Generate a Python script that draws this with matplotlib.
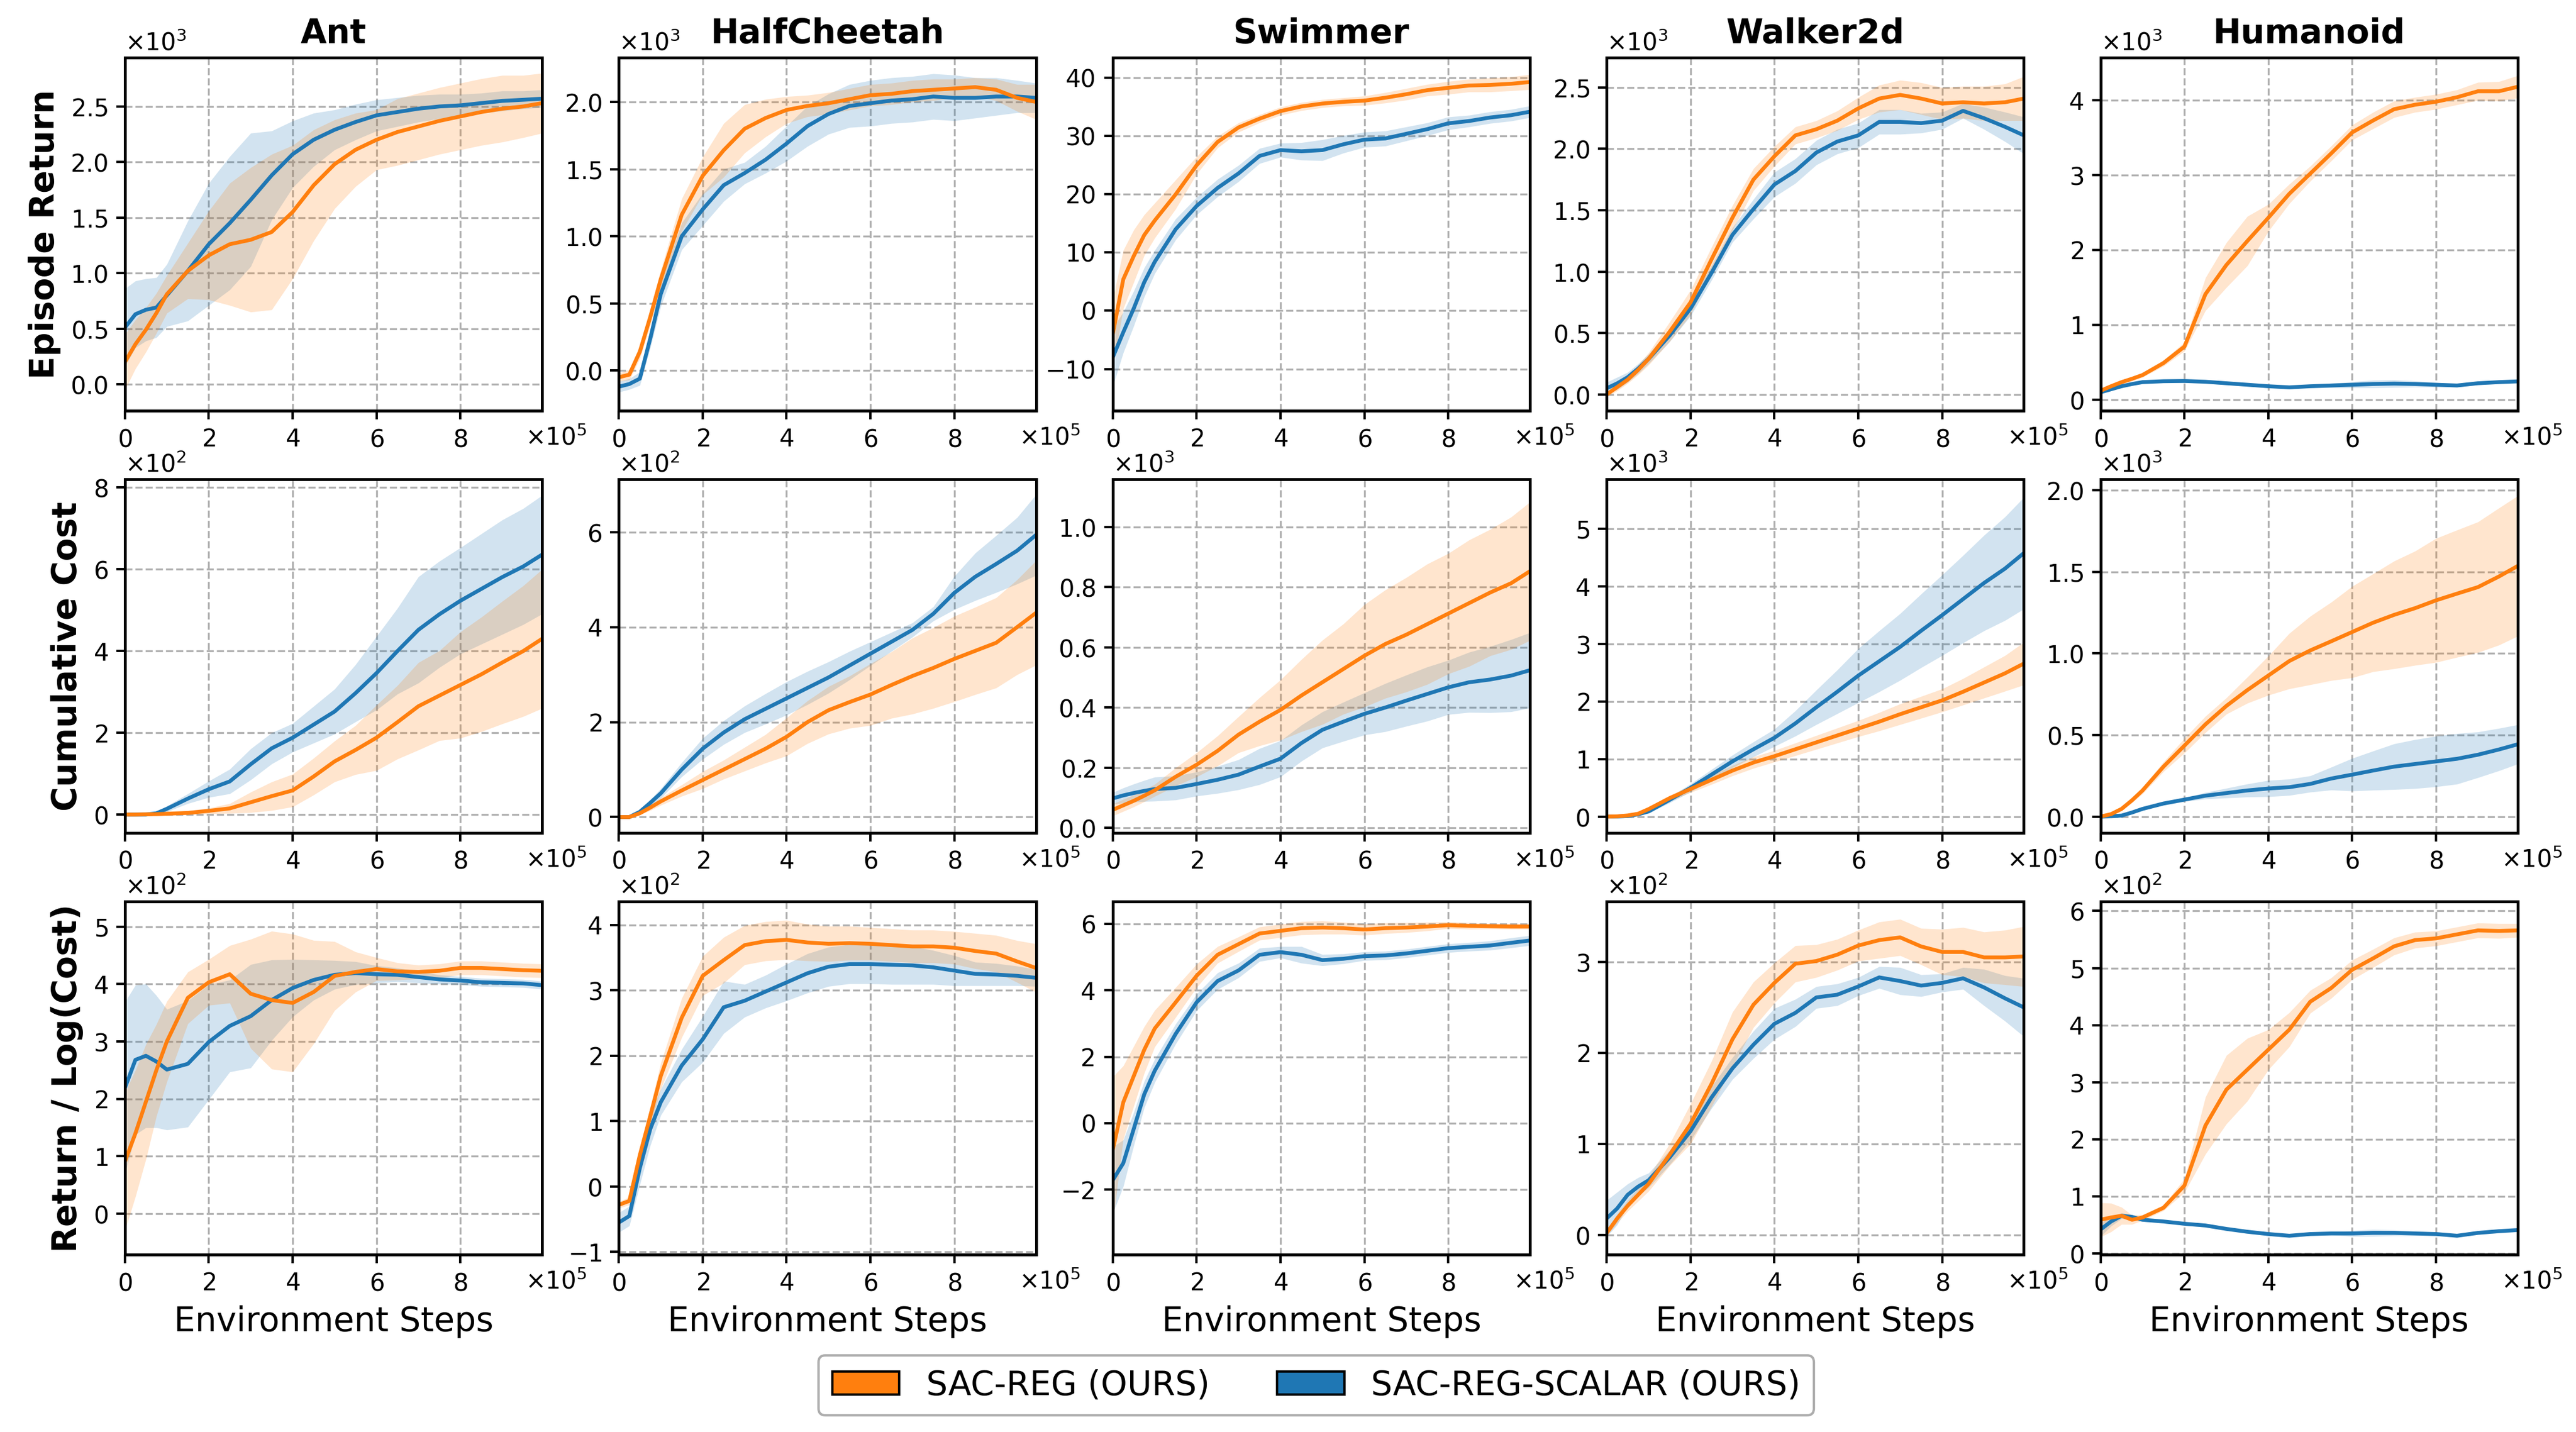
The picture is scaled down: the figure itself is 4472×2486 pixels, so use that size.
import numpy as np
import matplotlib
matplotlib.use("Agg")
import matplotlib.pyplot as plt
from matplotlib.patches import Patch

ORANGE = "#ff7f0e"
BLUE = "#1f77b4"

envs = ["Ant", "HalfCheetah", "Swimmer", "Walker2d", "Humanoid"]
metrics = ["Episode Return", "Cumulative Cost", "Return / Log(Cost)"]
methods = ["SAC-REG (OURS)", "SAC-REG-SCALAR (OURS)"]

# environment steps in units of 1e5
steps = [0, 0.25, 0.5, 0.75, 1, 1.5, 2, 2.5, 3, 3.5, 4, 4.5, 5, 5.5, 6, 6.5, 7, 7.5, 8, 8.5, 9, 9.5, 9.95]

# ---- Episode Return ----
ant_ret_reg = [0.20, 0.36, 0.49, 0.64, 0.81, 1.02, 1.16, 1.26, 1.30, 1.37, 1.55, 1.79, 1.98, 2.11, 2.20, 2.27, 2.32, 2.37, 2.41, 2.45, 2.48, 2.50, 2.53]
ant_ret_reg_sd = [0.25, 0.22, 0.20, 0.18, 0.17, 0.25, 0.40, 0.55, 0.65, 0.70, 0.60, 0.50, 0.40, 0.33, 0.27, 0.30, 0.30, 0.30, 0.30, 0.30, 0.30, 0.28, 0.27]
ant_ret_scl = [0.51, 0.63, 0.67, 0.69, 0.80, 1.02, 1.26, 1.45, 1.66, 1.88, 2.07, 2.20, 2.29, 2.36, 2.42, 2.45, 2.48, 2.50, 2.51, 2.53, 2.55, 2.56, 2.57]
ant_ret_scl_sd = [0.35, 0.30, 0.28, 0.27, 0.28, 0.45, 0.55, 0.60, 0.60, 0.40, 0.30, 0.24, 0.18, 0.16, 0.14, 0.13, 0.12, 0.11, 0.10, 0.09, 0.09, 0.08, 0.08]

hc_ret_reg = [-0.05, -0.03, 0.14, 0.40, 0.68, 1.16, 1.45, 1.64, 1.80, 1.88, 1.94, 1.97, 1.99, 2.02, 2.05, 2.06, 2.08, 2.09, 2.10, 2.11, 2.09, 2.03, 2.00]
hc_ret_reg_sd = [0.03, 0.04, 0.05, 0.06, 0.07, 0.12, 0.14, 0.20, 0.18, 0.14, 0.10, 0.08, 0.08, 0.08, 0.08, 0.08, 0.08, 0.08, 0.07, 0.07, 0.08, 0.10, 0.13]
hc_ret_scl = [-0.12, -0.10, -0.06, 0.24, 0.57, 1.00, 1.20, 1.38, 1.47, 1.57, 1.69, 1.82, 1.91, 1.97, 1.99, 2.01, 2.02, 2.04, 2.03, 2.03, 2.04, 2.04, 2.03]
hc_ret_scl_sd = [0.04, 0.04, 0.05, 0.07, 0.09, 0.10, 0.12, 0.12, 0.08, 0.10, 0.13, 0.15, 0.15, 0.16, 0.17, 0.17, 0.17, 0.17, 0.17, 0.15, 0.14, 0.12, 0.11]

sw_ret_reg = [-4.0, 5.4, 9.4, 13.0, 15.5, 20.0, 25.0, 29.0, 31.5, 33.0, 34.3, 35.1, 35.6, 35.9, 36.1, 36.6, 37.2, 37.9, 38.3, 38.7, 38.8, 39.0, 39.3]
sw_ret_reg_sd = [6.0, 5.0, 4.5, 3.5, 3.0, 2.5, 1.5, 1.0, 0.8, 0.7, 0.7, 0.7, 0.7, 0.7, 0.8, 0.9, 1.0, 1.0, 1.1, 1.1, 1.2, 1.2, 1.3]
sw_ret_scl = [-8.0, -3.7, 0.4, 4.9, 8.4, 14.0, 18.0, 21.1, 23.6, 26.6, 27.6, 27.4, 27.6, 28.6, 29.4, 29.6, 30.4, 31.2, 32.2, 32.6, 33.2, 33.6, 34.2]
sw_ret_scl_sd = [5.0, 3.5, 3.0, 2.5, 2.0, 1.8, 1.5, 1.5, 1.4, 1.3, 1.2, 1.5, 1.8, 1.5, 1.3, 1.3, 1.2, 1.1, 1.1, 1.0, 1.0, 1.0, 1.0]

wk_ret_reg = [0.00, 0.06, 0.12, 0.20, 0.29, 0.51, 0.75, 1.10, 1.44, 1.75, 1.94, 2.11, 2.16, 2.23, 2.33, 2.41, 2.44, 2.41, 2.37, 2.38, 2.37, 2.38, 2.41]
wk_ret_reg_sd = [0.02, 0.03, 0.03, 0.04, 0.05, 0.08, 0.10, 0.10, 0.10, 0.09, 0.08, 0.07, 0.07, 0.08, 0.09, 0.11, 0.12, 0.13, 0.13, 0.13, 0.14, 0.15, 0.18]
wk_ret_scl = [0.05, 0.09, 0.14, 0.21, 0.29, 0.48, 0.70, 0.99, 1.30, 1.51, 1.71, 1.82, 1.97, 2.06, 2.11, 2.22, 2.22, 2.21, 2.23, 2.31, 2.25, 2.18, 2.11]
wk_ret_scl_sd = [0.05, 0.05, 0.04, 0.04, 0.04, 0.05, 0.06, 0.06, 0.06, 0.08, 0.10, 0.10, 0.10, 0.10, 0.10, 0.10, 0.10, 0.08, 0.07, 0.06, 0.09, 0.12, 0.15]

hu_ret_reg = [0.12, 0.18, 0.235, 0.28, 0.33, 0.49, 0.71, 1.41, 1.80, 2.12, 2.43, 2.75, 3.02, 3.29, 3.57, 3.73, 3.88, 3.94, 3.98, 4.04, 4.12, 4.12, 4.18]
hu_ret_reg_sd = [0.03, 0.03, 0.03, 0.03, 0.03, 0.04, 0.06, 0.22, 0.30, 0.33, 0.18, 0.13, 0.10, 0.10, 0.10, 0.11, 0.11, 0.10, 0.10, 0.10, 0.12, 0.13, 0.15]
hu_ret_scl = [0.10, 0.14, 0.18, 0.21, 0.235, 0.247, 0.25, 0.24, 0.22, 0.20, 0.18, 0.165, 0.18, 0.19, 0.20, 0.21, 0.215, 0.21, 0.20, 0.19, 0.22, 0.235, 0.245]
hu_ret_scl_sd = [0.02, 0.02, 0.02, 0.02, 0.02, 0.02, 0.02, 0.02, 0.02, 0.02, 0.02, 0.02, 0.02, 0.03, 0.04, 0.05, 0.05, 0.04, 0.03, 0.02, 0.02, 0.02, 0.02]

# ---- Cumulative Cost ----
ant_cost_reg = [0.0, 0.0, 0.005, 0.01, 0.02, 0.04, 0.09, 0.15, 0.30, 0.45, 0.59, 0.93, 1.30, 1.58, 1.88, 2.26, 2.65, 2.91, 3.17, 3.43, 3.72, 4.00, 4.30]
ant_cost_reg_sd = [0.0, 0.01, 0.01, 0.02, 0.03, 0.05, 0.07, 0.12, 0.25, 0.35, 0.40, 0.45, 0.50, 0.60, 0.80, 0.90, 1.07, 1.10, 1.30, 1.40, 1.50, 1.60, 1.70]
ant_cost_scl = [0.0, 0.0, 0.0, 0.03, 0.14, 0.39, 0.62, 0.81, 1.23, 1.62, 1.88, 2.20, 2.52, 2.97, 3.46, 4.00, 4.52, 4.90, 5.23, 5.52, 5.81, 6.07, 6.36]
ant_cost_scl_sd = [0.0, 0.01, 0.02, 0.03, 0.07, 0.12, 0.20, 0.30, 0.38, 0.38, 0.35, 0.45, 0.55, 0.70, 0.90, 1.05, 1.30, 1.30, 1.30, 1.35, 1.40, 1.42, 1.45]

hc_cost_reg = [0.0, 0.0, 0.08, 0.20, 0.33, 0.56, 0.78, 1.00, 1.22, 1.44, 1.69, 2.00, 2.25, 2.42, 2.58, 2.78, 2.97, 3.14, 3.33, 3.50, 3.67, 4.00, 4.30]
hc_cost_reg_sd = [0.0, 0.01, 0.03, 0.06, 0.08, 0.12, 0.18, 0.20, 0.25, 0.30, 0.40, 0.45, 0.50, 0.55, 0.65, 0.70, 0.80, 0.85, 0.90, 0.92, 0.95, 1.00, 1.10]
hc_cost_scl = [0.0, 0.0, 0.11, 0.30, 0.50, 1.00, 1.44, 1.78, 2.06, 2.28, 2.50, 2.72, 2.94, 3.19, 3.44, 3.69, 3.94, 4.28, 4.72, 5.06, 5.33, 5.61, 5.94]
hc_cost_scl_sd = [0.0, 0.01, 0.04, 0.07, 0.10, 0.15, 0.22, 0.25, 0.28, 0.32, 0.35, 0.35, 0.33, 0.30, 0.25, 0.20, 0.15, 0.15, 0.35, 0.50, 0.60, 0.70, 0.85]

sw_cost_reg = [0.06, 0.075, 0.09, 0.107, 0.125, 0.17, 0.21, 0.256, 0.31, 0.353, 0.392, 0.44, 0.484, 0.528, 0.572, 0.611, 0.642, 0.677, 0.712, 0.747, 0.782, 0.813, 0.853]
sw_cost_reg_sd = [0.02, 0.02, 0.02, 0.02, 0.02, 0.03, 0.04, 0.05, 0.06, 0.08, 0.10, 0.12, 0.14, 0.15, 0.17, 0.18, 0.19, 0.20, 0.20, 0.21, 0.21, 0.22, 0.23]
sw_cost_scl = [0.098, 0.108, 0.116, 0.123, 0.129, 0.133, 0.146, 0.16, 0.177, 0.204, 0.23, 0.282, 0.326, 0.353, 0.379, 0.40, 0.423, 0.445, 0.467, 0.484, 0.493, 0.506, 0.524]
sw_cost_scl_sd = [0.02, 0.025, 0.03, 0.035, 0.04, 0.04, 0.04, 0.045, 0.05, 0.06, 0.06, 0.06, 0.06, 0.065, 0.07, 0.08, 0.085, 0.09, 0.09, 0.10, 0.11, 0.12, 0.125]

wk_cost_reg = [0.0, 0.005, 0.02, 0.05, 0.13, 0.32, 0.48, 0.64, 0.80, 0.94, 1.05, 1.17, 1.29, 1.41, 1.53, 1.65, 1.78, 1.90, 2.02, 2.17, 2.33, 2.49, 2.66]
wk_cost_reg_sd = [0.0, 0.005, 0.01, 0.02, 0.03, 0.05, 0.06, 0.08, 0.09, 0.10, 0.10, 0.11, 0.12, 0.13, 0.14, 0.16, 0.18, 0.19, 0.20, 0.23, 0.27, 0.31, 0.37]
wk_cost_scl = [0.0, 0.003, 0.01, 0.04, 0.09, 0.29, 0.50, 0.73, 0.96, 1.17, 1.37, 1.62, 1.90, 2.17, 2.45, 2.70, 2.95, 3.23, 3.50, 3.78, 4.06, 4.31, 4.58]
wk_cost_scl_sd = [0.0, 0.005, 0.01, 0.02, 0.03, 0.05, 0.07, 0.09, 0.11, 0.13, 0.15, 0.22, 0.30, 0.38, 0.47, 0.53, 0.58, 0.64, 0.70, 0.76, 0.83, 0.90, 0.97]

hu_cost_reg = [0.0, 0.015, 0.047, 0.10, 0.16, 0.306, 0.435, 0.565, 0.678, 0.775, 0.864, 0.953, 1.018, 1.074, 1.131, 1.188, 1.236, 1.277, 1.325, 1.366, 1.406, 1.471, 1.536]
hu_cost_reg_sd = [0.0, 0.005, 0.01, 0.015, 0.02, 0.03, 0.045, 0.05, 0.05, 0.08, 0.12, 0.17, 0.21, 0.24, 0.28, 0.30, 0.33, 0.35, 0.38, 0.39, 0.40, 0.42, 0.43]
hu_cost_scl = [0.0, 0.002, 0.006, 0.025, 0.047, 0.08, 0.104, 0.128, 0.144, 0.16, 0.172, 0.18, 0.20, 0.233, 0.257, 0.282, 0.306, 0.322, 0.338, 0.354, 0.379, 0.411, 0.443]
hu_cost_scl_sd = [0.0, 0.002, 0.004, 0.006, 0.008, 0.01, 0.012, 0.02, 0.03, 0.04, 0.05, 0.05, 0.05, 0.07, 0.10, 0.12, 0.14, 0.15, 0.155, 0.155, 0.14, 0.13, 0.12]

# ---- Return / Log(Cost) ----
ant_rlc_reg = [0.91, 1.40, 1.95, 2.50, 3.00, 3.76, 4.03, 4.17, 3.83, 3.72, 3.67, 3.86, 4.14, 4.21, 4.26, 4.22, 4.21, 4.23, 4.28, 4.28, 4.26, 4.24, 4.23]
ant_rlc_reg_sd = [1.20, 1.10, 1.00, 0.80, 0.70, 0.45, 0.40, 0.50, 0.95, 1.20, 1.20, 0.90, 0.60, 0.35, 0.20, 0.15, 0.12, 0.12, 0.12, 0.12, 0.12, 0.12, 0.12]
ant_rlc_scl = [2.19, 2.68, 2.75, 2.65, 2.51, 2.61, 2.99, 3.27, 3.44, 3.72, 3.93, 4.07, 4.16, 4.19, 4.17, 4.16, 4.12, 4.08, 4.06, 4.03, 4.02, 4.01, 3.98]
ant_rlc_scl_sd = [1.50, 1.30, 1.25, 1.15, 1.05, 1.10, 1.00, 0.80, 0.90, 0.70, 0.50, 0.35, 0.25, 0.20, 0.15, 0.12, 0.10, 0.08, 0.07, 0.07, 0.07, 0.07, 0.07]

hc_rlc_reg = [-0.28, -0.22, 0.48, 1.08, 1.69, 2.58, 3.22, 3.46, 3.69, 3.75, 3.77, 3.73, 3.71, 3.72, 3.71, 3.69, 3.67, 3.67, 3.65, 3.60, 3.56, 3.44, 3.34]
hc_rlc_reg_sd = [0.05, 0.06, 0.10, 0.15, 0.20, 0.30, 0.30, 0.35, 0.30, 0.30, 0.30, 0.28, 0.27, 0.26, 0.25, 0.25, 0.25, 0.25, 0.25, 0.27, 0.28, 0.32, 0.37]
hc_rlc_scl = [-0.55, -0.45, 0.28, 0.88, 1.29, 1.85, 2.25, 2.74, 2.84, 2.98, 3.12, 3.26, 3.36, 3.40, 3.40, 3.39, 3.38, 3.35, 3.30, 3.25, 3.24, 3.22, 3.19]
hc_rlc_scl_sd = [0.15, 0.15, 0.25, 0.25, 0.20, 0.25, 0.35, 0.40, 0.25, 0.25, 0.28, 0.30, 0.30, 0.30, 0.30, 0.30, 0.29, 0.26, 0.23, 0.18, 0.17, 0.15, 0.13]

sw_rlc_reg = [-0.80, 0.63, 1.42, 2.21, 2.85, 3.64, 4.44, 5.07, 5.39, 5.71, 5.79, 5.87, 5.89, 5.87, 5.83, 5.87, 5.89, 5.92, 5.96, 5.94, 5.93, 5.92, 5.92]
sw_rlc_reg_sd = [2.20, 1.10, 0.90, 0.70, 0.55, 0.45, 0.35, 0.25, 0.22, 0.20, 0.20, 0.20, 0.20, 0.18, 0.17, 0.16, 0.15, 0.13, 0.10, 0.10, 0.08, 0.08, 0.08]
sw_rlc_scl = [-1.71, -1.20, -0.17, 0.87, 1.58, 2.69, 3.64, 4.28, 4.60, 5.07, 5.15, 5.07, 4.91, 4.95, 5.03, 5.05, 5.11, 5.19, 5.27, 5.31, 5.35, 5.43, 5.50]
sw_rlc_scl_sd = [1.00, 0.70, 0.50, 0.40, 0.35, 0.30, 0.25, 0.25, 0.22, 0.20, 0.17, 0.25, 0.17, 0.15, 0.13, 0.13, 0.13, 0.13, 0.13, 0.13, 0.14, 0.15, 0.15]

wk_rlc_reg = [0.02, 0.18, 0.32, 0.44, 0.56, 0.88, 1.22, 1.66, 2.15, 2.53, 2.77, 2.98, 3.01, 3.08, 3.18, 3.24, 3.27, 3.17, 3.11, 3.11, 3.05, 3.05, 3.06]
wk_rlc_reg_sd = [0.03, 0.05, 0.06, 0.07, 0.08, 0.12, 0.22, 0.25, 0.30, 0.25, 0.22, 0.20, 0.18, 0.17, 0.17, 0.20, 0.20, 0.20, 0.25, 0.27, 0.28, 0.30, 0.33]
wk_rlc_scl = [0.18, 0.29, 0.44, 0.53, 0.60, 0.85, 1.14, 1.51, 1.83, 2.09, 2.32, 2.44, 2.61, 2.64, 2.73, 2.83, 2.79, 2.74, 2.77, 2.82, 2.72, 2.60, 2.50]
wk_rlc_scl_sd = [0.20, 0.18, 0.12, 0.10, 0.08, 0.08, 0.10, 0.12, 0.12, 0.15, 0.17, 0.15, 0.12, 0.12, 0.10, 0.12, 0.15, 0.12, 0.10, 0.12, 0.20, 0.25, 0.32]

hu_rlc_reg = [0.59, 0.63, 0.66, 0.59, 0.63, 0.80, 1.19, 2.24, 2.87, 3.22, 3.57, 3.92, 4.41, 4.65, 4.97, 5.17, 5.38, 5.49, 5.52, 5.59, 5.66, 5.65, 5.66]
hu_rlc_reg_sd = [0.30, 0.25, 0.15, 0.08, 0.05, 0.05, 0.12, 0.50, 0.60, 0.55, 0.35, 0.30, 0.20, 0.18, 0.17, 0.16, 0.15, 0.14, 0.13, 0.13, 0.13, 0.13, 0.12]
hu_rlc_scl = [0.42, 0.56, 0.66, 0.64, 0.59, 0.56, 0.52, 0.49, 0.43, 0.38, 0.34, 0.31, 0.34, 0.35, 0.35, 0.36, 0.36, 0.35, 0.34, 0.31, 0.36, 0.39, 0.41]
hu_rlc_scl_sd = [0.12, 0.08, 0.05, 0.04, 0.03, 0.03, 0.03, 0.03, 0.03, 0.03, 0.03, 0.03, 0.03, 0.03, 0.05, 0.06, 0.05, 0.04, 0.03, 0.03, 0.03, 0.03, 0.03]

grid_data = [
    [(ant_ret_reg, ant_ret_reg_sd, ant_ret_scl, ant_ret_scl_sd),
     (hc_ret_reg, hc_ret_reg_sd, hc_ret_scl, hc_ret_scl_sd),
     (sw_ret_reg, sw_ret_reg_sd, sw_ret_scl, sw_ret_scl_sd),
     (wk_ret_reg, wk_ret_reg_sd, wk_ret_scl, wk_ret_scl_sd),
     (hu_ret_reg, hu_ret_reg_sd, hu_ret_scl, hu_ret_scl_sd)],
    [(ant_cost_reg, ant_cost_reg_sd, ant_cost_scl, ant_cost_scl_sd),
     (hc_cost_reg, hc_cost_reg_sd, hc_cost_scl, hc_cost_scl_sd),
     (sw_cost_reg, sw_cost_reg_sd, sw_cost_scl, sw_cost_scl_sd),
     (wk_cost_reg, wk_cost_reg_sd, wk_cost_scl, wk_cost_scl_sd),
     (hu_cost_reg, hu_cost_reg_sd, hu_cost_scl, hu_cost_scl_sd)],
    [(ant_rlc_reg, ant_rlc_reg_sd, ant_rlc_scl, ant_rlc_scl_sd),
     (hc_rlc_reg, hc_rlc_reg_sd, hc_rlc_scl, hc_rlc_scl_sd),
     (sw_rlc_reg, sw_rlc_reg_sd, sw_rlc_scl, sw_rlc_scl_sd),
     (wk_rlc_reg, wk_rlc_reg_sd, wk_rlc_scl, wk_rlc_scl_sd),
     (hu_rlc_reg, hu_rlc_reg_sd, hu_rlc_scl, hu_rlc_scl_sd)],
]

# power of ten the values above are written in (0 = raw values)
exponents = [[3, 3, 0, 3, 3],
             [2, 2, 3, 3, 3],
             [2, 2, 0, 2, 2]]

# y limits, in the same units as the arrays
ylims = [[(-0.24, 2.94), (-0.30, 2.33), (-17.2, 43.5), (-0.134, 2.744), (-0.149, 4.57)],
         [(-0.445, 8.2), (-0.33, 7.11), (-0.016, 1.158), (-0.28, 5.86), (-0.099, 2.066)],
         [(-0.71, 5.44), (-1.04, 4.36), (-3.95, 6.68), (-0.217, 3.667), (-0.02, 6.17)]]

fig, axes = plt.subplots(3, 5, figsize=(4472 / 300, 2486 / 300), dpi=300)
fig.subplots_adjust(left=0.0485, right=0.9774, top=0.9598, bottom=0.1239,
                    wspace=0.184, hspace=0.194)

x = np.array(steps) * 1e5

for r in range(3):
    for c in range(5):
        ax = axes[r, c]
        reg, reg_sd, scl, scl_sd = grid_data[r][c]
        unit = 10.0 ** exponents[r][c]
        for mean, sd, color in ((scl, scl_sd, BLUE), (reg, reg_sd, ORANGE)):
            m = np.array(mean) * unit
            s = np.array(sd) * unit
            ax.fill_between(x, m - s, m + s, color=color, alpha=0.2, linewidth=0)
            ax.plot(x, m, color=color, linewidth=1.6)

        lo, hi = ylims[r][c]
        ax.set_ylim(lo * unit, hi * unit)
        ax.set_xlim(0, x[-1])

        ax.grid(True, linestyle="--", color="#b0b0b0", linewidth=0.8)
        ax.set_axisbelow(True)
        for sp in ax.spines.values():
            sp.set_linewidth(1.2)
        ax.tick_params(labelsize=10, width=1.0, length=3.5)

        ax.ticklabel_format(axis="x", style="sci", scilimits=(5, 5), useMathText=True)
        if exponents[r][c] != 0:
            e = exponents[r][c]
            ax.ticklabel_format(axis="y", style="sci", scilimits=(e, e), useMathText=True)
        ax.yaxis.get_offset_text().set_fontsize(10)

        # x multiplier sits level with the tick labels, at the right end
        ax.xaxis.get_offset_text().set_visible(False)
        ax.annotate(r"$\times10^{5}$", xy=(1, 0), xycoords="axes fraction",
                    xytext=(-7, -14.3), textcoords="offset points",
                    ha="left", va="baseline", fontsize=10)

        if r == 0:
            ax.set_title(envs[c], fontsize=14, fontweight="bold")
        if c == 0:
            ax.set_ylabel(metrics[r], fontsize=14, fontweight="bold")
        if r == 2:
            ax.set_xlabel("Environment Steps", fontsize=14)

handles = [Patch(facecolor=ORANGE, edgecolor="black"),
           Patch(facecolor=BLUE, edgecolor="black")]
fig.legend(handles, methods, loc="center", bbox_to_anchor=(0.511, 0.0326),
           ncol=2, fontsize=14, edgecolor="0.6", fancybox=True)

fig.savefig("out.png", dpi=300)
